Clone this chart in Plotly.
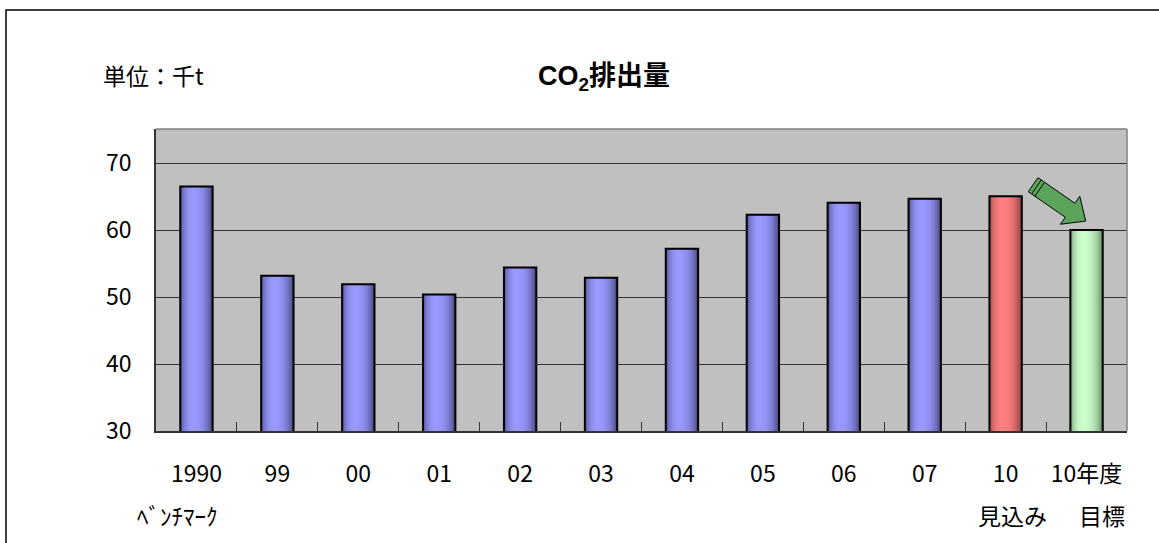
import plotly.graph_objects as go
import numpy as np

# ---- data ----
categories = ["1990", "99", "00", "01", "02", "03", "04", "05", "06", "07", "10", "10年度"]
values = [66.5, 53.2, 51.9, 50.4, 54.4, 52.9, 57.2, 62.3, 64.1, 64.7, 65.05, 60.0]
bar_kind = ["actual"] * 10 + ["forecast", "target"]
sub_labels = {"1990": "ﾍﾞﾝﾁﾏｰｸ", "10": "見込み", "10年度": "目標"}
sub_shift = {"1990": -19, "10": 7, "10年度": 15}
y_ticks = [30, 40, 50, 60, 70]
y_range = [30, 75.1]

# ---- style ----
FONT = "Noto Sans CJK JP, Liberation Sans, sans-serif"
TITLE_FONT = "Liberation Sans, Noto Sans CJK JP, sans-serif"
palette = {
    "actual": ((153, 153, 255), (74, 74, 135), (56, 56, 100)),
    "forecast": ((255, 128, 128), (146, 70, 70), (115, 56, 56)),
    "target": ((204, 255, 204), (108, 146, 108), (86, 120, 86)),
}
BAR_W = 0.4
N = 16
PEAK = 0.4

W, H = 1159, 543
ML, MR, MT, MB = 156, 32, 129, 112

idx = list(range(len(categories)))

def shade(kind, t):
    light, dl, dr = palette[kind]
    if t <= PEAK:
        w = 1 - ((PEAK - t) / PEAK) ** 2
        dark = dl
    else:
        w = 1 - ((t - PEAK) / (1 - PEAK)) ** 2
        dark = dr
    w = max(0.0, min(1.0, w)) ** 0.7
    c = [int(round(d + w * (l - d))) for l, d in zip(light, dark)]
    return f"rgb({c[0]},{c[1]},{c[2]})"

fig = go.Figure()
step = BAR_W / N
for i in range(N):
    t = (i + 0.5) / N
    start = -BAR_W / 2 + i * step
    fig.add_trace(go.Bar(
        x=idx, y=values, base=0,
        offset=start, width=BAR_W - i * step,
        marker=dict(color=[shade(k, t) for k in bar_kind], line=dict(width=0)),
        hoverinfo="skip",
    ))
# outline
fig.add_trace(go.Bar(
    x=idx, y=values,
    offset=-BAR_W / 2, width=BAR_W,
    marker=dict(color="rgba(0,0,0,0)", line=dict(color="black", width=2)),
    customdata=categories,
    hovertemplate="%{customdata}: %{y}<extra></extra>",
))

fig.update_layout(
    width=W, height=H,
    margin=dict(l=ML, r=MR, t=MT, b=MB),
    plot_bgcolor="#C0C0C0", paper_bgcolor="white",
    barmode="overlay", showlegend=False,
    font=dict(family=FONT, size=23, color="black"),
)
fig.update_xaxes(
    range=[-0.5, len(categories) - 0.5], showgrid=False, zeroline=False,
    tickmode="array", tickvals=idx, ticktext=categories, ticks="",
    showline=True, linecolor="#333333", linewidth=1.5,
    minor=dict(tickmode="array", tickvals=[i + 0.5 for i in idx[:-1]],
               ticks="inside", ticklen=9, tickcolor="#333333", showgrid=False),
    tickfont=dict(family=FONT, size=23, color="black"),
    ticklabelstandoff=22,
)
fig.update_yaxes(
    range=y_range, tickvals=y_ticks,
    showgrid=True, gridcolor="#333333", gridwidth=1,
    showline=True, linecolor="#333333", linewidth=1.5,
    ticks="inside", ticklen=9, tickcolor="#333333",
    tickfont=dict(family=FONT, size=23, color="black"),
    ticklabelstandoff=18, zeroline=False,
)

# plot area border (top, right)
fig.add_shape(type="line", xref="paper", yref="paper", x0=0, x1=1, y0=1, y1=1,
              line=dict(color="#808080", width=1.5))
fig.add_shape(type="line", xref="paper", yref="paper", x0=1, x1=1, y0=0, y1=1,
              line=dict(color="#808080", width=1.5))

# outer frame
pw = W - ML - MR
ph = H - MT - MB
def px_to_paper(px, py):
    return (px - ML) / pw, (H - MB - py) / ph
fx0, fy0 = px_to_paper(6, 10)
fx1, fy1 = px_to_paper(1200, 600)
fig.add_shape(type="rect", xref="paper", yref="paper", x0=fx0, x1=fx1, y0=fy1, y1=fy0,
              line=dict(color="black", width=1.5), fillcolor="rgba(0,0,0,0)")

# titles
tx, ty = px_to_paper(101, 75)
fig.add_annotation(text="単位：千t", xref="paper", yref="paper", x=tx, y=ty,
                   xanchor="left", yanchor="middle", showarrow=False,
                   font=dict(family=FONT, size=23, color="black"))
cx, cy = px_to_paper(536, 78)
fig.add_annotation(text="<b>CO<sub>2</sub>排出量</b>", xref="paper", yref="paper", x=cx, y=cy,
                   xanchor="left", yanchor="middle", showarrow=False,
                   font=dict(family=TITLE_FONT, size=27, color="black"))

# second row labels
_, sy = px_to_paper(0, 515)
for cat, lab in sub_labels.items():
    fig.add_annotation(text=lab, xref="x", yref="paper", x=categories.index(cat), y=sy,
                       xshift=sub_shift[cat], xanchor="center", yanchor="middle",
                       showarrow=False, font=dict(family=FONT, size=23, color="black"))

# decorative arrow pointing to the target bar (pixel geometry -> data coords)
px_per_cat = pw / len(categories)
px_per_val = ph / (y_range[1] - y_range[0])
tgt_idx = categories.index("10年度")
tip_x, tip_y = tgt_idx - 0.01, values[tgt_idx] + 1.35
d = np.array([0.822, 0.569])   # pixel direction (right, down)
p = np.array([-0.569, 0.822])
L, HL, SW, HW = 64, 19, 8.5, 17
def to_data(v):
    return tip_x + v[0] / px_per_cat, tip_y - v[1] / px_per_val
tail = -L * d
neck = -HL * d
pts = [tail + SW * p, neck + SW * p, neck + HW * p, np.array([0.0, 0.0]),
       neck - HW * p, neck - SW * p, tail - SW * p]
path = "M " + " L ".join(f"{to_data(v)[0]:.4f},{to_data(v)[1]:.4f}" for v in pts) + " Z"
fig.add_shape(type="path", xref="x", yref="y", path=path,
              fillcolor="#5CA35C", line=dict(color="black", width=1))
for off in (4, 8):
    a = to_data(tail + off * d + SW * p)
    b = to_data(tail + off * d - SW * p)
    fig.add_shape(type="line", xref="x", yref="y", x0=a[0], y0=a[1], x1=b[0], y1=b[1],
                  line=dict(color="black", width=1))

fig.write_html("out.html")
